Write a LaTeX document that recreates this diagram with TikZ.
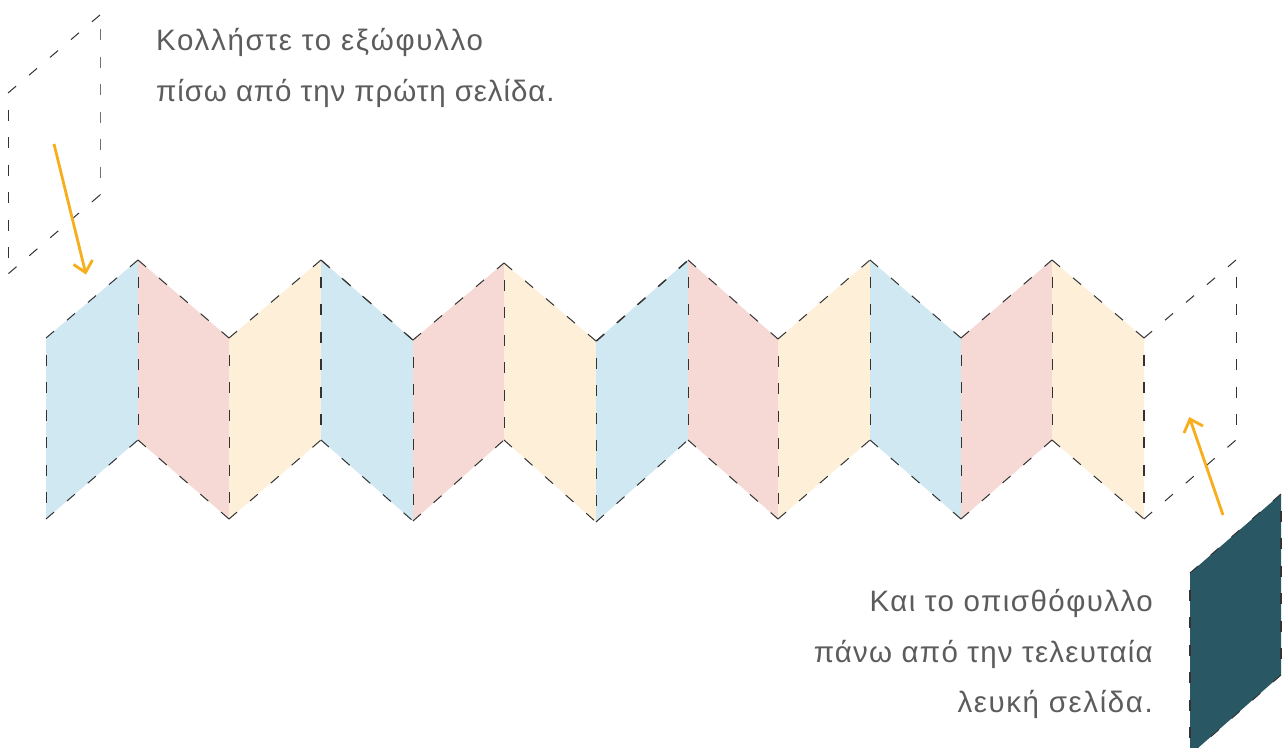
\documentclass[tikz,border=0pt]{standalone}
\usepackage{fontspec}
\setmainfont{Liberation Sans}
\newfontfamily\capA[LetterSpace=5.7]{Liberation Sans}
\newfontfamily\capB[LetterSpace=3.0]{Liberation Sans}
\newfontfamily\capC[LetterSpace=4.9]{Liberation Sans}
\newfontfamily\capD[LetterSpace=4.2]{Liberation Sans}
\newfontfamily\capE[LetterSpace=5.4]{Liberation Sans}
\definecolor{pblue}{HTML}{D0E8F2}
\definecolor{ppink}{HTML}{F6D9D4}
\definecolor{pcream}{HTML}{FEF0D8}
\definecolor{pdark}{HTML}{295763}
\definecolor{porange}{HTML}{F8AE1B}
\definecolor{ptext}{HTML}{5C5C5C}
\definecolor{pline}{HTML}{333333}
\tikzset{
  x=1pt,y=-1pt,
  foldline/.style={pline,line width=1pt,dash pattern=on 10.6pt off 16.9pt},
  vertline/.style={pline,line width=1pt,dash pattern=on 11pt off 16.5pt,dash phase=11pt},
  vertdark/.style={vertline,line width=1.5pt},
  pointer/.style={porange,line width=2.8pt},
  caption/.style={text=ptext,inner sep=0pt},
}
\newcommand{\capsize}{\fontsize{29.5}{32}\selectfont}
\begin{document}
\begin{tikzpicture}
\useasboundingbox (0,0) rectangle (1285,747);
\clip (0,0) rectangle (1285,747);
\fill[white] (0,0) rectangle (1285,747);
% zigzag coordinates
\foreach \i/\xx/\yt/\yb in {0/46/338/519,1/138/260/440,2/229/338/519,3/321/260/440,4/413/340/521,5/504/263/440,6/596/341/522,7/688/260/440,8/778/339/519,9/870/260/440,10/961/338/519,11/1052/260/440,12/1144/338/519,13/1236/260/440}{
  \coordinate (t\i) at (\xx,\yt);
  \coordinate (b\i) at (\xx,\yb);
}
% coloured panels
\foreach \a/\b/\c in {0/1/pblue,1/2/ppink,2/3/pcream,3/4/pblue,4/5/ppink,5/6/pcream,6/7/pblue,7/8/ppink,8/9/pcream,9/10/pblue,10/11/ppink,11/12/pcream}{
  \fill[\c] (t\a) -- (t\b) -- (b\b) -- (b\a) -- cycle;
}
% fold lines
\foreach \a/\b in {0/1,1/2,2/3,3/4,4/5,5/6,6/7,7/8,8/9,9/10,10/11,11/12,12/13}{
  \draw[foldline] (t\a) -- (t\b);
  \draw[foldline] (b\a) -- (b\b);
}
\foreach \a in {0,1,2,4,5,6,7,8,9,10,11,13}{
  \draw[vertline] (t\a) -- (b\a);
}
\draw[vertdark] (t3) -- (b3);
\draw[vertdark] (t12) -- (b12);
\draw[foldline] ([xshift=1pt,yshift=-1pt]t3) -- ([xshift=1pt,yshift=-1pt]t4);
\draw[foldline] ([xshift=-1pt,yshift=-1.5pt]t7) -- ([xshift=-1pt,yshift=-1.5pt]t6);
% ghost cover
\coordinate (cA) at (8,93);
\coordinate (cB) at (100,15);
\coordinate (cC) at (100,195);
\coordinate (cD) at (8,274);
\draw[foldline] (cB) -- (cA);
\draw[foldline] (cC) -- (cD);
\draw[vertline] (cA) -- (cD);
\draw[vertline,dash phase=13.5pt,pline!70] (cB) -- (cC);
% dark back cover
\coordinate (dA) at (1190,573);
\coordinate (dB) at (1281,494);
\coordinate (dC) at (1281,675);
\coordinate (dD) at (1190,755);
\fill[pdark] (dA) -- (dB) -- (dC) -- (dD) -- cycle;
\draw[foldline] (dB) -- (dA);
\draw[foldline] (dC) -- (dD);
\draw[vertdark] (dA) -- (dD);
\draw[vertdark] (dB) -- (dC);
% arrows
\coordinate (a1s) at (54,144);
\coordinate (a1t) at (85.5,272.5);
\coordinate (a1l) at (73.5,264.5);
\coordinate (a1r) at (92.5,260);
\draw[pointer] (a1s) -- (a1t);
\draw[pointer,line join=miter] (a1l) -- (a1t) -- (a1r);
\coordinate (a2s) at (1223,515);
\coordinate (a2t) at (1190,419);
\coordinate (a2l) at (1184,433);
\coordinate (a2r) at (1203,426);
\draw[pointer] (a2s) -- (a2t);
\draw[pointer,line join=miter] (a2l) -- (a2t) -- (a2r);
% captions
\node[caption,anchor=base west] (c1) at (156,50) {\capA\capsize Κολλήστε το εξώφυλλο};
\node[caption,anchor=base west] (c2) at (156,101) {\capB\capsize πίσω από την πρώτη σελίδα.};
\node[caption,anchor=base east] (c3) at (1153,611) {\capC\capsize Και το οπισθόφυλλο};
\node[caption,anchor=base east] (c4) at (1153,662) {\capD\capsize πάνω από την τελευταία};
\node[caption,anchor=base east] (c5) at (1153,712) {\capE\capsize λευκή σελίδα.};
\end{tikzpicture}
\end{document}
